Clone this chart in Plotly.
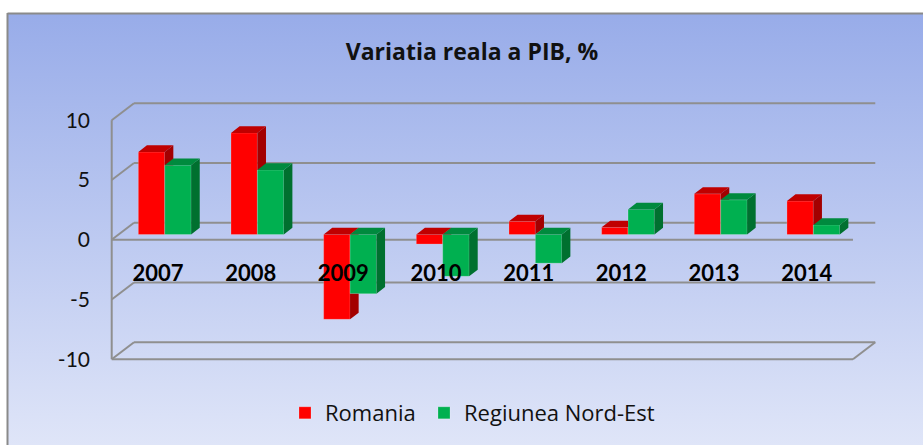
import base64
import plotly.graph_objects as go

years = [2007, 2008, 2009, 2010, 2011, 2012, 2013, 2014]
romania = [6.9, 8.5, -7.1, -0.8, 1.1, 0.6, 3.4, 2.8]
nord_est = [5.8, 5.4, -4.95, -3.5, -2.4, 2.1, 2.9, 0.8]
y_ticks = [-10, -5, 0, 5, 10]
y_labels = ["-10", "-5", "0", "5", "10"]

W, H = 923, 445
# plot area in pixels
PL, PR, PT, PB = 108, 879, 100, 362
PX_X = 92.66   # pixels per category
PX_Y = 11.95   # pixels per y unit
X_FRONT_LEFT = 111.7
Y_ZERO = 239.7

x0 = years[0] - 0.5 - (X_FRONT_LEFT - PL) / PX_X
x1 = x0 + (PR - PL) / PX_X
y0 = -(PB - Y_ZERO) / PX_Y
y1 = (Y_ZERO - PT) / PX_Y

WALL_DX, WALL_DY = 22.3 / PX_X, 17 / PX_Y      # depth of the back wall
BAR_OFF_X, BAR_BASE = 6.7 / PX_X, 5.2 / PX_Y   # bars stand a little inside the floor
BAR_W = 26.4 / PX_X
BAR_DX, BAR_DY = 8.6 / PX_X, 6.7 / PX_Y        # depth of a bar

GRID = "#8f8f8f"
shapes = []


def grid(xa, ya, xb, yb):
    shapes.append(dict(type="line", xref="x", yref="y", x0=xa, y0=ya, x1=xb, y1=yb,
                       layer="below", line=dict(color=GRID, width=2)))


front_l, front_r = years[0] - 0.5, years[-1] + 0.5
for t in y_ticks:
    grid(front_l, t, front_l + WALL_DX, t + WALL_DY)
    grid(front_l + WALL_DX, t + WALL_DY, front_r + WALL_DX, t + WALL_DY)
grid(front_l, y_ticks[0], front_l, y_ticks[-1])
grid(front_l, 0, front_r, 0)
grid(front_l, y_ticks[0], front_r, y_ticks[0])
grid(front_r, y_ticks[0], front_r + WALL_DX, y_ticks[0] + WALL_DY)


def polys(items):
    xs, ys = [], []
    for p in items:
        xs += [a for a, _ in p] + [p[0][0], None]
        ys += [b for _, b in p] + [p[0][1], None]
    return xs, ys


r_top, r_side, g_top, g_side = [], [], [], []
for yr, r, g in zip(years, romania, nord_est):
    mid = yr + BAR_OFF_X
    b = BAR_BASE
    # green
    gt, gb = b + max(g, 0), b + min(g, 0)
    gr = mid + BAR_W
    g_top.append([(mid, gt), (gr, gt), (gr + BAR_DX, gt + BAR_DY), (mid + BAR_DX, gt + BAR_DY)])
    g_side.append([(gr, gt), (gr + BAR_DX, gt + BAR_DY), (gr + BAR_DX, gb + BAR_DY), (gr, gb)])
    # red: only the parts not hidden by the green front face
    rt, rb = b + max(r, 0), b + min(r, 0)
    rl = mid - BAR_W
    if gt > rt:
        r_top.append([(rl, rt), (mid, rt), (mid, rt + BAR_DY), (rl + BAR_DX, rt + BAR_DY)])
    else:
        r_top.append([(rl, rt), (mid, rt), (mid + BAR_DX, rt + BAR_DY), (rl + BAR_DX, rt + BAR_DY)])
    side = [(mid, rt), (mid + BAR_DX, rt + BAR_DY), (mid + BAR_DX, rb + BAR_DY), (mid, rb)]
    above = [(a, max(c, gt)) for a, c in side]
    below = [(a, min(c, gb)) for a, c in side]
    r_side += [above, below]


def face(items, color):
    xs, ys = polys(items)
    return go.Scatter(x=xs, y=ys, mode="lines", line=dict(width=0), fill="toself",
                      fillcolor=color, hoverinfo="skip", showlegend=False)


fig = go.Figure()
bar_x = [yr + BAR_OFF_X for yr in years]
bar_line = dict(width=0.6, color="rgba(255,255,255,0.35)")
fig.add_trace(go.Bar(x=bar_x, y=romania, base=[BAR_BASE] * len(years), width=BAR_W, offset=-BAR_W,
                     name="Romania", legend="legend", marker=dict(color="#ff0000", line=bar_line)))
fig.add_trace(go.Bar(x=bar_x, y=nord_est, base=[BAR_BASE] * len(years), width=BAR_W, offset=0,
                     name="Regiunea Nord-Est", legend="legend2", marker=dict(color="#00b050", line=bar_line)))
fig.add_trace(face(r_top, "#c00000"))
fig.add_trace(face(r_side, "#a30000"))
fig.add_trace(face(g_side, "#00702f"))
fig.add_trace(face(g_top, "#008a3e"))

# gradient background
svg = ('<svg xmlns="http://www.w3.org/2000/svg" width="916" height="431" preserveAspectRatio="none">'
       '<defs><linearGradient id="g" x1="0" y1="0" x2="0" y2="1">'
       '<stop offset="0" stop-color="#98ace9"/><stop offset="1" stop-color="#dfe5f8"/>'
       '</linearGradient></defs><rect width="916" height="431" fill="url(#g)"/></svg>')
uri = "data:image/svg+xml;base64," + base64.b64encode(svg.encode()).decode()
pw, ph = PR - PL, PB - PT


def px(v):
    return (v - PL) / pw


def py(v):
    return (PB - v) / ph


fig.add_layout_image(dict(source=uri, xref="paper", yref="paper", x=px(7), y=py(14),
                          sizex=916 / pw, sizey=431 / ph, sizing="stretch",
                          xanchor="left", yanchor="top", layer="below"))
FRAME = "#8a8a8a"
shapes.append(dict(type="line", xref="paper", yref="paper", x0=px(7.5), x1=px(923), y0=py(13.5), y1=py(13.5),
                   layer="below", line=dict(color=FRAME, width=2)))
shapes.append(dict(type="line", xref="paper", yref="paper", x0=px(7.5), x1=px(7.5), y0=py(13), y1=py(445),
                   layer="below", line=dict(color=FRAME, width=2)))

legend_font = dict(family="Open Sans", size=22, color="#111111")
fig.update_layout(
    width=W, height=H,
    margin=dict(l=PL, r=W - PR, t=PT, b=H - PB, autoexpand=False),
    paper_bgcolor="white", plot_bgcolor="rgba(0,0,0,0)",
    barmode="overlay", shapes=shapes,
    font=dict(family="Lato, Carlito, sans-serif", color="#111111"),
    title=dict(text="<b>Variatia reala a PIB, %</b>", x=472 / W, y=1 - 52 / H,
               xanchor="center", yanchor="middle", xref="container",
               font=dict(family="Open Sans", size=23, color="#111111")),
    xaxis=dict(range=[x0, x1], tickmode="array", tickvals=years, ticktext=[f"<b>{y}</b>" for y in years],
               anchor="free", position=py(258), showline=False, zeroline=False, showgrid=False,
               ticks="", tickfont=dict(size=22, color="#000000"), fixedrange=True),
    yaxis=dict(range=[y0, y1], tickmode="array", tickvals=y_ticks, ticktext=y_labels,
               showline=False, zeroline=False, showgrid=False, ticks="",
               ticklabelstandoff=17, tickfont=dict(size=21, color="#111111"), fixedrange=True),
    legend=dict(x=px(285), y=py(413), xanchor="left", yanchor="middle",
                bgcolor="rgba(0,0,0,0)", font=legend_font),
    legend2=dict(x=px(424), y=py(413), xanchor="left", yanchor="middle",
                 bgcolor="rgba(0,0,0,0)", font=legend_font),
)
fig.write_html("out.html", config=dict(displayModeBar=False),
               post_script="document.body.style.margin='0';document.body.style.overflow='hidden';")
